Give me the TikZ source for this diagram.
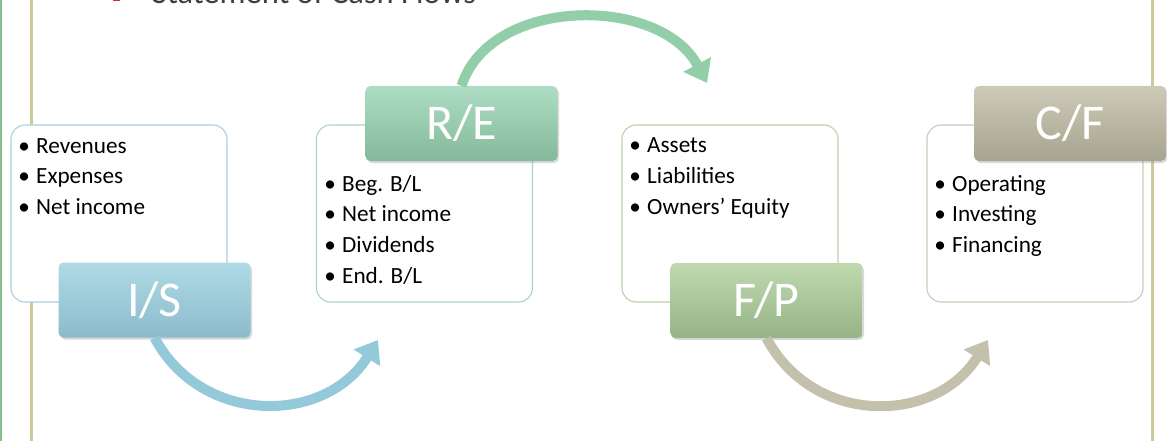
\documentclass[tikz,border=0pt]{standalone}
\usepackage{fontspec}
\setmainfont{Carlito}
\usetikzlibrary{arrows.meta,shadows}
\definecolor{lgreen}{HTML}{86BE8C}
\definecolor{tanline}{HTML}{CFC89C}
\definecolor{titlered}{HTML}{D2302C}
\definecolor{titlegray}{HTML}{3F3F3F}
\definecolor{isborder}{HTML}{A8D1DD}
\definecolor{reborder}{HTML}{A8D8BC}
\definecolor{fpborder}{HTML}{BAD3AD}
\definecolor{cfborder}{HTML}{CBC9B7}
\definecolor{istop}{HTML}{B0DAE6}
\definecolor{isbot}{HTML}{8BBBCA}
\definecolor{retop}{HTML}{ADDEC3}
\definecolor{rebot}{HTML}{85B89B}
\definecolor{fptop}{HTML}{BFD9AF}
\definecolor{fpbot}{HTML}{96B486}
\definecolor{cftop}{HTML}{CDCBB8}
\definecolor{cfbot}{HTML}{A6A48E}
\definecolor{isarrow}{HTML}{93C9D8}
\definecolor{rearrow}{HTML}{93CEAA}
\definecolor{cfarrow}{HTML}{C3C1AB}
\newcommand\myitem[4]{\node[itemtext] (#1) at (#2-12,#3) {\makebox[24pt][c]{•}#4};}
\begin{document}
\begin{tikzpicture}[x=1pt,y=-1pt,
  listbox/.style={draw, line width=1.1pt, fill=white, rounded corners=14pt,
    minimum width=216pt, minimum height=177pt, inner sep=0},
  labelbox/.style={rounded corners=5pt, minimum width=192pt, minimum height=75pt,
    inner sep=0, text=white, font=\fontsize{50}{60}\selectfont,
    drop shadow={shadow xshift=1.5pt, shadow yshift=-2pt, opacity=0.3}},
  itemtext/.style={anchor=base west, inner sep=0, font=\fontsize{23.2}{27}\selectfont, text=black},
  flow/.style={line width=10pt, -{Triangle[length=21pt,width=30pt]}},
]
\useasboundingbox (0,0) rectangle (1167,441);
% frame lines
\draw[lgreen, line width=2pt] (1,0) -- (1,441);
\draw[tanline, line width=3pt] (31,0) -- (31,441);
\draw[tanline, line width=3pt] (1152,0) -- (1152,441);
% title
\node[fill=titlered, minimum size=7pt, inner sep=0] (sq) at (116.5,-2) {};
\node[anchor=base west, inner sep=0, font=\fontsize{32.5}{39}\selectfont, text=titlegray] (title) at (152,3.5) {Statement of Cash Flows};
% list boxes
\node[listbox, draw=isborder] (isb) at (119,213.5) {};
\node[listbox, draw=reborder] (reb) at (424.5,213.5) {};
\node[listbox, draw=fpborder] (fpb) at (730,213.5) {};
\node[listbox, draw=cfborder] (cfb) at (1035,213.5) {};
% items
\myitem{is1}{24}{153.5}{Revenues}
\myitem{is2}{24}{183.5}{Expenses}
\myitem{is3}{24}{214}{Net income}
\myitem{re1}{330}{191}{Beg. B/L}
\myitem{re2}{330}{221}{Net income}
\myitem{re3}{330}{252}{Dividends}
\myitem{re4}{330}{283}{End. B/L}
\myitem{fp1}{635}{152.5}{Assets}
\myitem{fp2}{635}{183}{Liabilities}
\myitem{fp3}{635}{214}{Owners’ Equity}
\myitem{cf1}{940}{191.5}{Operating}
\myitem{cf2}{940}{221.5}{Investing}
\myitem{cf3}{940}{252.5}{Financing}
% label boxes
\node[labelbox, top color=istop, bottom color=isbot] (isl) at (154.5,300) {I/S};
\node[labelbox, top color=retop, bottom color=rebot] (rel) at (461.5,123.5) {R/E};
\node[labelbox, top color=fptop, bottom color=fpbot] (fpl) at (766.5,300.5) {F/P};
\node[labelbox, top color=cftop, bottom color=cfbot] (cfl) at (1070,123.5) {C/F};
% arrows
\coordinate (a1) at (378,340);
\coordinate (a2) at (707,83);
\coordinate (a3) at (988,340);
\draw[flow, isarrow] (isl.south) .. controls +(47,88) and +(-53,85) .. (a1);
\draw[flow, rearrow] (rel.north) .. controls +(29,-90) and +(-47,-88) .. (a2);
\draw[flow, cfarrow] (fpl.south) .. controls +(47,88) and +(-53,85) .. (a3);
\end{tikzpicture}
\end{document}
